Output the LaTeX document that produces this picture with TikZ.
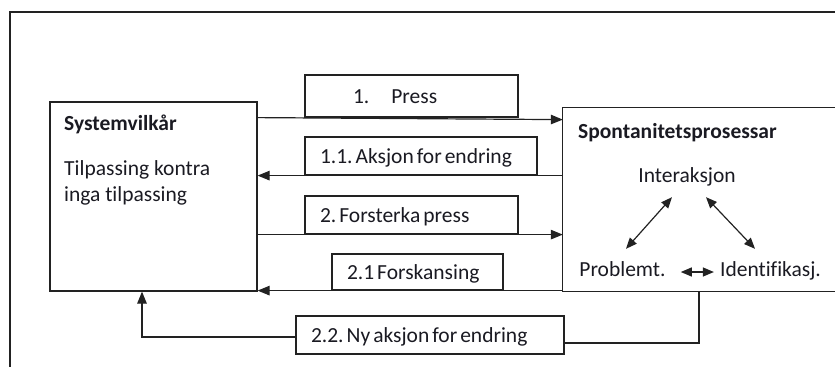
\documentclass[tikz,border=0pt]{standalone}
\usepackage{fontspec}
\setmainfont{Carlito}[Ligatures=NoCommon]
\usetikzlibrary{arrows.meta,calc}
\definecolor{lncol}{HTML}{222222}
\definecolor{txtcol}{HTML}{1A1A22}
\frenchspacing
\newcommand\mytightsp{\spaceskip=0.14em\relax\xspaceskip=0.14em\relax}
\begin{document}
\begin{tikzpicture}[x=1pt,y=-1pt,
  every node/.style={font=\fontsize{21.5}{26}\selectfont, text=txtcol},
  ln/.style={line width=1.2pt, draw=lncol},
  arr/.style={ln, -{Triangle[length=12pt,width=9.5pt]}},
  darr/.style={ln, {Triangle[length=11pt,width=9pt]}-{Triangle[length=11pt,width=9pt]}},
  txtnode/.style={inner sep=0pt, text height=14pt, text depth=0pt},
  tag/.style={ln, fill=white, inner xsep=15pt, inner ysep=0pt, text height=14pt, text depth=0pt, align=left},
  bigbox/.style={ln, inner sep=0pt}]
\useasboundingbox (0,0) rectangle (835,367);
% outer frame
\draw[ln] (835,12) -- (10,12) -- (10,367);
% main boxes
\node[bigbox, minimum width=207pt, minimum height=189pt] (sys) at (153.5,196.5) {};
\node[inner sep=0pt, minimum width=272pt, minimum height=183pt] (spo) at (699,199.5) {};
\draw[ln] (spo.north east) -- (spo.north west) -- (spo.south west) -- (spo.south east);
% texts in left box
\node[txtnode, anchor=west] (sysT) at (64,123.5) {\textbf{Systemvilkår}};
\node[inner sep=0pt, anchor=north west, align=left] (sysB) at (64,160) {Tilpassing kontra\\inga tilpassing};
% texts in right box
\node[txtnode, anchor=west] (spoT) at (578,131) {\textbf{Spontanitetsprosessar}};
\node[txtnode] (inter) at (687,175.5) {Interaksjon};
\node[txtnode] (prob) at (622.5,269) {Problemt.};
\node[txtnode] (ident) at (770.5,269) {Identifikasj.};
% label boxes
\node[tag, text width=183pt, minimum height=42pt] (p1) at (411.5,96) {\mbox{\hspace{33pt}1.\hspace{22pt}Press}};
\node[tag, text width=202pt, minimum height=38pt] (a11) at (421,156) {\mytightsp\mbox{1.1. Aksjon for endring}};
\node[tag, text width=183pt, minimum height=38pt] (p2) at (411.5,215) {\mytightsp\mbox{2. Forsterka press}};
\node[tag, text width=141pt, minimum height=36pt] (f21) at (417.5,272) {\mytightsp\mbox{2.1 Forskansing}};
\node[tag, text width=238pt, minimum height=38pt] (n22) at (430,335) {\mytightsp\mbox{2.2. Ny aksjon for endring}};
% connectors
\draw[arr] (sys.east |- p1.south) -- ($(spo.west |- p1.south)+(0,2)$);
\draw[arr] (spo.west |- a11.south) -- (sys.east |- a11.south);
\draw[arr] (sys.east |- p2.south) -- (spo.west |- p2.south);
\draw[arr] (spo.west |- f21.south) -- (sys.east |- f21.south);
\draw[ln] (spo.south) |- ($(n22.east)+(0,8)$);
\draw[arr] ($(n22.west)+(0,2)$) -| ($(sys.south)+(-11.5,0)$);
% inner arrows
\draw[darr] ($(inter.south)+(-15,14.5)$) -- ($(prob.north)+(3.5,-13)$);
\draw[darr] ($(inter.south)+(19,14.5)$) -- ($(ident.north)+(-15.5,-13)$);
\draw[darr] ($(prob.east)+(15,3)$) -- ($(ident.west)+(-6,3)$);
\end{tikzpicture}
\end{document}
